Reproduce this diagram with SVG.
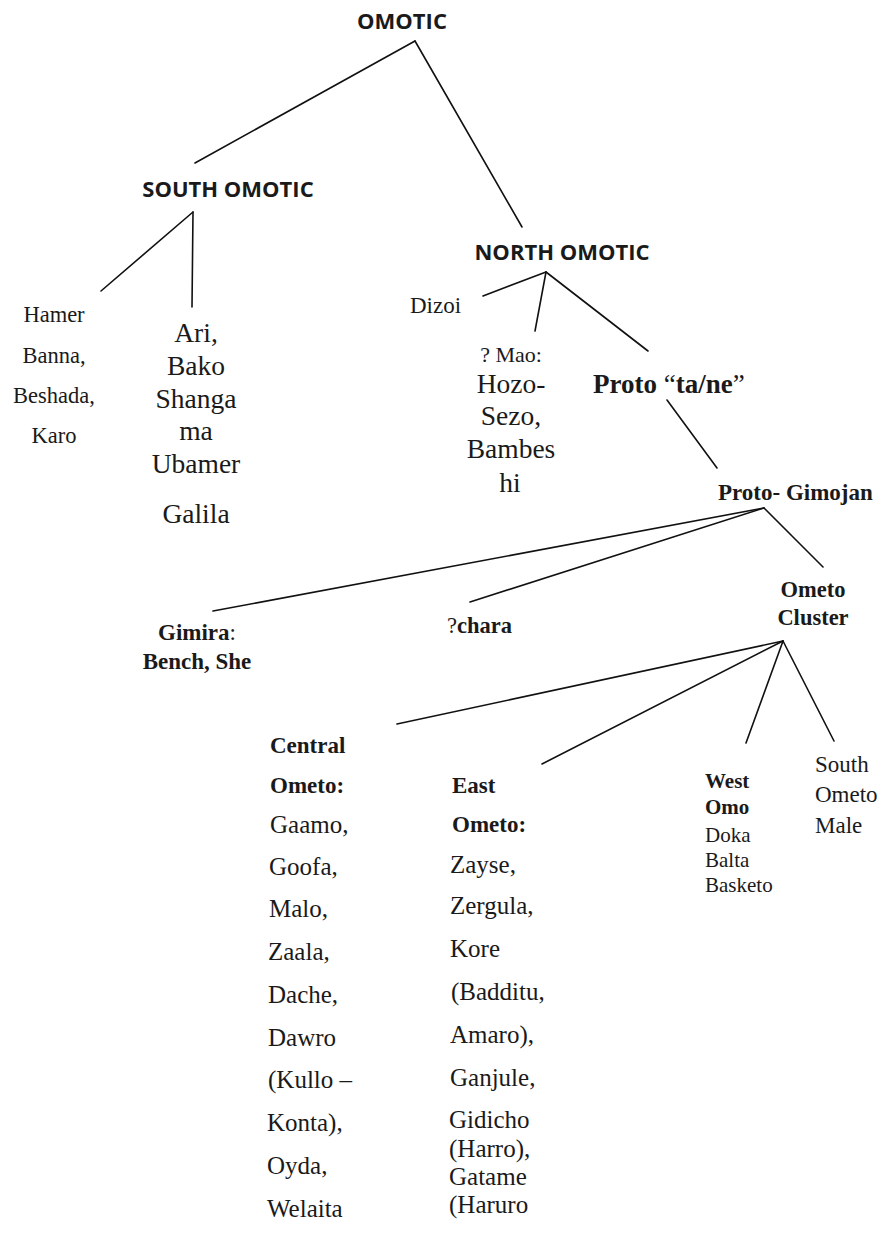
<svg xmlns="http://www.w3.org/2000/svg" width="882" height="1251" viewBox="0 0 882 1251">
<style>
.ln{stroke:#111;stroke-width:1.6;fill:none;stroke-linecap:round}
.hd{font-family:"Open Sans","Liberation Sans",sans-serif;font-weight:bold;fill:#1a1a1a}
.sr{font-family:"Liberation Serif","DejaVu Serif",serif;fill:#1a1a1a}
.b{font-weight:bold}
.m{text-anchor:middle}
</style>
<rect width="882" height="1251" fill="#fff"/>
<g id="connectors">
<line class="ln" x1="415" y1="41" x2="195" y2="163"/>
<line class="ln" x1="415" y1="41" x2="522" y2="227"/>
<line class="ln" x1="193" y1="212" x2="101" y2="291"/>
<line class="ln" x1="193" y1="212" x2="192" y2="307"/>
<line class="ln" x1="546" y1="272" x2="483" y2="296"/>
<line class="ln" x1="546" y1="272" x2="535" y2="331"/>
<line class="ln" x1="546" y1="272" x2="648" y2="351"/>
<line class="ln" x1="667" y1="400" x2="717" y2="468"/>
<line class="ln" x1="764" y1="508" x2="213" y2="611"/>
<line class="ln" x1="764" y1="508" x2="470" y2="602"/>
<line class="ln" x1="764" y1="508" x2="823" y2="567"/>
<line class="ln" x1="783" y1="641" x2="397" y2="724"/>
<line class="ln" x1="783" y1="641" x2="542" y2="764"/>
<line class="ln" x1="783" y1="641" x2="746" y2="743"/>
<line class="ln" x1="783" y1="641" x2="834" y2="741"/>
</g>
<g id="omotic"><text class="hd m" x="402" y="29" font-size="22">OMOTIC</text></g>
<g id="south-omotic"><text class="hd m" x="228" y="197" font-size="22">SOUTH OMOTIC</text></g>
<g id="north-omotic"><text class="hd m" x="562" y="260" font-size="22">NORTH OMOTIC</text></g>
<g id="hamer" class="sr m" font-size="22.5">
<text x="54" y="322">Hamer</text>
<text x="54" y="363">Banna,</text>
<text x="54" y="403">Beshada,</text>
<text x="54" y="443">Karo</text>
</g>
<g id="ari" class="sr m" font-size="27.5">
<text x="196" y="342">Ari,</text>
<text x="196" y="375">Bako</text>
<text x="196" y="408">Shanga</text>
<text x="196" y="440">ma</text>
<text x="196" y="473">Ubamer</text>
<text x="196" y="523">Galila</text>
</g>
<g id="dizoi"><text class="sr" x="410" y="313" font-size="23">Dizoi</text></g>
<g id="mao" class="sr m">
<text x="511" y="362" font-size="22">? Mao:</text>
<text x="511" y="393" font-size="27.5">Hozo-</text>
<text x="511" y="425" font-size="27.5">Sezo,</text>
<text x="511" y="458" font-size="27.5">Bambes</text>
<text x="510" y="492" font-size="27.5">hi</text>
</g>
<g id="proto-tane"><text class="sr b" x="593" y="393" font-size="27">Proto <tspan font-weight="normal">“</tspan>ta/ne<tspan font-weight="normal">”</tspan></text></g>
<g id="proto-gimojan"><text class="sr b" x="718" y="500" font-size="23">Proto- Gimojan</text></g>
<g id="ometo-cluster" class="sr b m" font-size="22.5">
<text x="813" y="597">Ometo</text>
<text x="813" y="625">Cluster</text>
</g>
<g id="gimira" class="sr m" font-size="23">
<text x="197" y="640"><tspan font-weight="bold">Gimira</tspan>:</text>
<text x="197" y="669" font-weight="bold">Bench, She</text>
</g>
<g id="chara"><text class="sr" x="447" y="633" font-size="22.5">?<tspan font-weight="bold">chara</tspan></text></g>
<g id="central-ometo" class="sr" font-size="25">
<text x="270" y="753" font-weight="bold" font-size="23">Central</text>
<text x="270" y="793" font-weight="bold" font-size="23">Ometo:</text>
<text x="270" y="833">Gaamo,</text>
<text x="269" y="875">Goofa,</text>
<text x="269" y="917">Malo,</text>
<text x="268" y="960">Zaala,</text>
<text x="268" y="1003">Dache,</text>
<text x="268" y="1046">Dawro</text>
<text x="268" y="1088">(Kullo –</text>
<text x="267" y="1131">Konta),</text>
<text x="267" y="1174">Oyda,</text>
<text x="267" y="1217">Welaita</text>
</g>
<g id="east-ometo" class="sr" font-size="25">
<text x="452" y="793" font-weight="bold" font-size="23">East</text>
<text x="452" y="832" font-weight="bold" font-size="23">Ometo:</text>
<text x="450" y="873">Zayse,</text>
<text x="450" y="914">Zergula,</text>
<text x="450" y="957">Kore</text>
<text x="451" y="1000">(Badditu,</text>
<text x="450" y="1043">Amaro),</text>
<text x="450" y="1086">Ganjule,</text>
<text x="449" y="1128">Gidicho</text>
<text x="449" y="1157">(Harro),</text>
<text x="449" y="1185">Gatame</text>
<text x="449" y="1213">(Haruro</text>
</g>
<g id="west-omo" class="sr" font-size="21">
<text x="705" y="788" font-weight="bold">West</text>
<text x="705" y="814" font-weight="bold">Omo</text>
<text x="705" y="842">Doka</text>
<text x="705" y="867">Balta</text>
<text x="705" y="892">Basketo</text>
</g>
<g id="south-ometo" class="sr" font-size="23">
<text x="815" y="772">South</text>
<text x="815" y="802">Ometo</text>
<text x="815" y="833">Male</text>
</g>
</svg>
